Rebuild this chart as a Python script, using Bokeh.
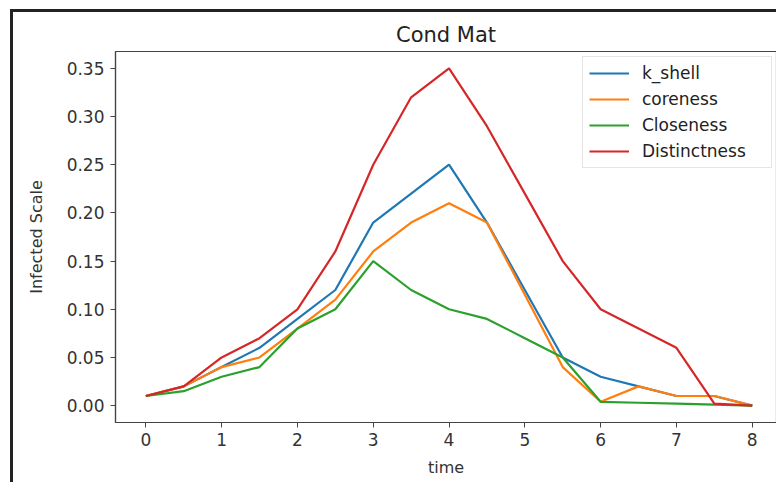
from bokeh.plotting import figure
from bokeh.models import FixedTicker, NumeralTickFormatter, Legend, LegendItem, Range1d
from bokeh.embed import file_html
from bokeh.resources import INLINE

# ---- data ----
time = [0, 0.5, 1, 1.5, 2, 2.5, 3, 3.5, 4, 4.5, 5, 5.5, 6, 6.5, 7, 7.5, 8]
k_shell = [0.01, 0.02, 0.04, 0.06, 0.09, 0.12, 0.19, 0.22, 0.25, 0.19, 0.12, 0.05, 0.03, 0.02, 0.01, 0.01, 0.0]
coreness = [0.01, 0.02, 0.04, 0.05, 0.08, 0.11, 0.16, 0.19, 0.21, 0.19, 0.115, 0.04, 0.004, 0.02, 0.01, 0.01, 0.0]
closeness = [0.01, 0.015, 0.03, 0.04, 0.08, 0.10, 0.15, 0.12, 0.10, 0.09, 0.07, 0.05, 0.004, 0.003, 0.002, 0.001, 0.0]
distinctness = [0.01, 0.02, 0.05, 0.07, 0.10, 0.16, 0.25, 0.32, 0.35, 0.29, 0.22, 0.15, 0.10, 0.08, 0.06, 0.002, 0.0]

series_names = ["k_shell", "coreness", "Closeness", "Distinctness"]
series_values = [k_shell, coreness, closeness, distinctness]
colors = ["#1f77b4", "#ff7f0e", "#2ca02c", "#d62728"]

x_ticks = [0, 1, 2, 3, 4, 5, 6, 7, 8]
y_ticks = [0.0, 0.05, 0.10, 0.15, 0.20, 0.25, 0.30, 0.35]

FONT = "DejaVu Sans"

p = figure(
    width=766, height=473,
    output_backend="svg", toolbar_location=None,
    x_range=Range1d(-0.4, 8.32), y_range=Range1d(-0.0175, 0.3675),
    min_border_left=102, min_border_right=3, min_border_top=39, min_border_bottom=63,
    title="Cond Mat",
)
p.styles = {"border-left": "3px solid #222222", "border-top": "3px solid #222222",
            "margin-left": "10px", "margin-top": "9px"}

p.title.text_font = FONT
p.title.text_font_size = "21px"
p.title.text_font_style = "normal"
p.title.text_color = "#222222"
p.title.align = "center"
p.title.offset = 2
p.title.standoff = 10

p.xgrid.visible = False
p.ygrid.visible = False
p.outline_line_color = "#444444"
p.outline_line_width = 1.2
p.background_fill_color = "white"
p.border_fill_color = "white"

for ax in (p.xaxis[0], p.yaxis[0]):
    ax.axis_line_color = "#444444"
    ax.axis_line_width = 1.2
    ax.major_tick_line_color = "#444444"
    ax.major_tick_out = 5
    ax.major_tick_in = 0
    ax.minor_tick_line_color = None
    ax.major_label_text_font = FONT
    ax.major_label_text_font_size = "17px"
    ax.major_label_text_color = "#333333"
    ax.axis_label_text_font = FONT
    ax.axis_label_text_font_size = "16px"
    ax.axis_label_text_font_style = "normal"
    ax.axis_label_text_color = "#333333"

p.xaxis.ticker = FixedTicker(ticks=x_ticks)
p.yaxis.ticker = FixedTicker(ticks=y_ticks)
p.yaxis.formatter = NumeralTickFormatter(format="0.00")
p.xaxis.axis_label = "time"
p.yaxis.axis_label = "Infected Scale"
p.xaxis.major_label_standoff = 5
p.yaxis.major_label_standoff = 6
p.xaxis.axis_label_standoff = 9
p.yaxis.axis_label_standoff = 18

items = []
for name, vals, c in zip(series_names, series_values, colors):
    r = p.line(time, vals, line_color=c, line_width=2.2)
    items.append(LegendItem(label=name, renderers=[r]))

legend = Legend(
    items=items, location=(467, 254),
    label_text_font=FONT, label_text_font_size="17px", label_text_color="#222222",
    glyph_width=40, glyph_height=20, label_height=20, label_width=123,
    label_standoff=13, spacing=6, padding=6, margin=0,
    border_line_color="#cccccc", border_line_width=1,
    background_fill_color="white", background_fill_alpha=0.8,
)
p.add_layout(legend, "center")

open("out.html", "w").write(file_html(p, INLINE))
